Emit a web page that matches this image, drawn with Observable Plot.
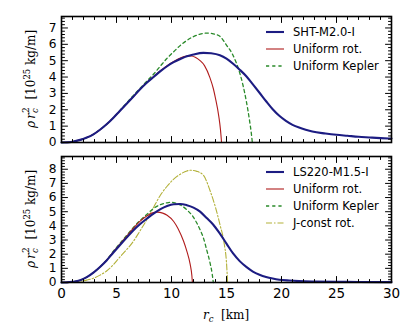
<!DOCTYPE html>
<html>
<head>
<meta charset="utf-8">
<script src="https://cdn.jsdelivr.net/npm/d3@7"></script>
<script src="https://cdn.jsdelivr.net/npm/@observablehq/plot@0.6"></script>
<style>
  html, body { margin: 0; padding: 0; background: #fff; }
  #fig { position: relative; width: 411px; height: 329px; font-family: "DejaVu Sans", sans-serif; }
</style>
</head>
<body>
<div id="fig"></div>
<script>
// ---------- Data ----------
// Top panel: SHT-M2.0-I
const topBlueR = [0, 0.5, 1, 1.7, 2.3, 2.9, 3.5, 4.1, 4.7, 5.3, 5.9, 6.5, 7.1, 7.75, 8.4, 9.0, 9.6, 10.2, 10.8, 11.4, 12.0, 12.9, 13.6, 14.4, 15.0, 15.6, 16.2, 16.8, 17.4, 18.0, 18.6, 19.2, 19.8, 20.4, 21.0, 21.6, 22.2, 22.8, 24, 25, 26, 27, 28, 29, 30];
const topBlueV = [0, 0.01, 0.05, 0.16, 0.3, 0.5, 0.78, 1.11, 1.5, 1.93, 2.35, 2.78, 3.22, 3.65, 4.02, 4.36, 4.66, 4.91, 5.1, 5.27, 5.38, 5.48, 5.45, 5.33, 5.12, 4.81, 4.45, 4.05, 3.55, 3.04, 2.52, 2.03, 1.63, 1.32, 1.08, 0.91, 0.78, 0.67, 0.55, 0.47, 0.41, 0.35, 0.31, 0.27, 0.24];
const topRedR = [0, 0.5, 1, 1.7, 2.3, 2.9, 3.5, 4.1, 4.7, 5.3, 5.9, 6.5, 7.1, 7.75, 8.4, 9.0, 9.6, 10.2, 10.8, 11.4, 11.8, 12.2, 12.6, 13.0, 13.5, 13.8, 14.0, 14.3, 14.45, 14.55];
const topRedV = [0, 0.01, 0.05, 0.16, 0.3, 0.5, 0.78, 1.11, 1.5, 1.93, 2.35, 2.78, 3.22, 3.66, 4.04, 4.39, 4.7, 4.95, 5.17, 5.28, 5.29, 5.2, 5.0, 4.7, 3.95, 3.3, 2.7, 1.6, 0.8, 0];
const topGreenR = [0, 0.5, 1, 1.7, 2.3, 2.9, 3.5, 4.1, 4.7, 5.3, 5.9, 6.5, 7.1, 7.75, 8.4, 9.0, 9.6, 10.2, 10.8, 11.4, 12.0, 12.6, 13.2, 13.8, 14.4, 15.0, 15.5, 16.2, 16.5, 16.8, 17.1, 17.25, 17.35];
const topGreenV = [0, 0.01, 0.05, 0.16, 0.3, 0.5, 0.78, 1.11, 1.5, 1.95, 2.4, 2.85, 3.28, 3.75, 4.2, 4.68, 5.15, 5.55, 5.93, 6.24, 6.47, 6.62, 6.69, 6.64, 6.49, 5.95, 5.45, 4.26, 3.5, 2.53, 1.32, 0.6, 0];

// Bottom panel: LS220-M1.5-I
const botBlueR = [0, 0.5, 1, 1.7, 2.3, 2.9, 3.5, 4.1, 4.7, 5.3, 5.9, 6.5, 7.1, 7.75, 8.4, 9.0, 9.6, 10.2, 10.8, 11.4, 12.0, 12.6, 13.2, 13.8, 14.4, 15.0, 15.6, 16.2, 16.8, 17.4, 18.0, 18.6, 19.2, 19.8, 20.7, 21.6, 23, 25, 27, 30];
const botBlueV = [0, 0.01, 0.05, 0.16, 0.38, 0.7, 1.1, 1.56, 2.1, 2.63, 3.15, 3.66, 4.1, 4.5, 4.88, 5.18, 5.4, 5.53, 5.55, 5.46, 5.29, 5.01, 4.55, 4.08, 3.45, 2.75, 2.05, 1.51, 1.1, 0.77, 0.55, 0.39, 0.28, 0.2, 0.14, 0.1, 0.07, 0.05, 0.04, 0.03];
const botRedR = [0, 0.5, 1, 1.7, 2.3, 2.9, 3.5, 4.1, 4.7, 5.3, 5.9, 6.5, 7.1, 7.75, 8.2, 8.7, 9.2, 9.6, 10.2, 10.6, 11.1, 11.4, 11.7, 11.85, 11.9];
const botRedV = [0, 0.01, 0.05, 0.16, 0.38, 0.7, 1.1, 1.58, 2.15, 2.7, 3.25, 3.8, 4.3, 4.7, 4.9, 4.97, 4.9, 4.75, 4.31, 3.8, 2.91, 2.2, 1.28, 0.5, 0];
const botGreenR = [0, 0.5, 1, 1.7, 2.3, 2.9, 3.5, 4.1, 4.7, 5.3, 5.9, 6.5, 7.1, 7.75, 8.4, 9.0, 9.6, 10.0, 10.4, 10.8, 11.4, 12.0, 12.3, 12.6, 12.9, 13.2, 13.5, 13.7, 13.8];
const botGreenV = [0, 0.01, 0.05, 0.16, 0.38, 0.7, 1.1, 1.58, 2.2, 2.75, 3.3, 3.85, 4.35, 4.8, 5.25, 5.5, 5.63, 5.66, 5.6, 5.48, 5.13, 4.6, 4.2, 3.73, 3.15, 2.3, 1.4, 0.6, 0];
const botOliveR = [0, 1, 1.7, 2.3, 2.9, 3.5, 4.1, 4.7, 5.3, 5.9, 6.5, 7.1, 7.75, 8.4, 9.0, 9.6, 10.2, 10.8, 11.4, 11.7, 12.3, 12.9, 13.5, 14.0, 14.4, 14.8, 15.0, 15.1];
const botOliveV = [0, 0.02, 0.08, 0.17, 0.3, 0.52, 0.81, 1.25, 1.79, 2.3, 2.87, 3.6, 4.43, 5.35, 6.18, 6.8, 7.3, 7.65, 7.88, 7.93, 7.85, 7.58, 6.5, 5.3, 4.1, 2.7, 1.4, 0];

const topNames = ["SHT-M2.0-I", "Uniform rot.", "Uniform Kepler"];
const botNames = ["LS220-M1.5-I", "Uniform rot.", "Uniform Kepler", "J-const rot."];
const xTicks = [0, 5, 10, 15, 20, 25, 30];
const topYTicks = [0, 1, 2, 3, 4, 5, 6, 7];
const botYTicks = [0, 1, 2, 3, 4, 5, 6, 7, 8];

// ---------- Styles ----------
const styles = [
  {stroke: "#1c1c82", strokeWidth: 2.1, dash: null},
  {stroke: "#b01c1c", strokeWidth: 1.1, dash: null},
  {stroke: "#2a8a2a", strokeWidth: 1.3, dash: "3.2,3"},
  {stroke: "#b3b13a", strokeWidth: 1.1, dash: "6,2,1.5,2"}
];

const zip = (r, v) => r.map((x, i) => ({r: x, v: v[i]}));
const topSeries = [zip(topBlueR, topBlueV), zip(topRedR, topRedV), zip(topGreenR, topGreenV)];
const botSeries = [zip(botBlueR, botBlueV), zip(botRedR, botRedV), zip(botGreenR, botGreenV), zip(botOliveR, botOliveV)];

const range = (a, b, s) => { const out = []; for (let t = a; t <= b + 1e-9; t += s) out.push(+t.toFixed(3)); return out; };
const xMinor = range(0, 30, 1).filter(d => d % 5 !== 0);

// a plain line-segment shape for inward tick marks
const tickShape = {draw(ctx, l) { ctx.moveTo(0, 0); ctx.lineTo(0, -l); }};
function ticks(vals, axis, anchor, len, yMax) {
  const base = {length: len, anchor: "start", shape: tickShape, stroke: "#000", strokeWidth: 1, fill: "none"};
  if (axis === "x") {
    return Plot.vector(vals, {...base, x: d => d, y: anchor === "bottom" ? 0 : yMax, rotate: anchor === "bottom" ? 0 : 180});
  }
  return Plot.vector(vals, {...base, y: d => d, x: anchor === "left" ? 0 : 30, rotate: anchor === "left" ? 90 : -90});
}

function panel(series, yMax, yTicks, opts) {
  const yMinor = range(0, yMax, 0.2).filter(d => Math.abs(d - Math.round(d)) > 1e-6);
  const lines = [];
  const order = series.map((s, i) => i).reverse();
  for (const i of order) {
    lines.push(Plot.line(series[i], {
      x: "r", y: "v", stroke: styles[i].stroke, strokeWidth: styles[i].strokeWidth,
      strokeDasharray: styles[i].dash, curve: "monotone-x"
    }));
  }
  const marks = [
    ...lines,
    ticks(xTicks, "x", "bottom", 6, yMax),
    ticks(xMinor, "x", "bottom", 3, yMax),
    ticks(xTicks, "x", "top", 6, yMax),
    ticks(xMinor, "x", "top", 3, yMax),
    ticks(yTicks, "y", "left", 6, yMax),
    ticks(yMinor, "y", "left", 3, yMax),
    ticks(yTicks, "y", "right", 6, yMax),
    ticks(yMinor, "y", "right", 3, yMax),
    Plot.axisY(yTicks, {anchor: "left", tickSize: 0, tickPadding: 5, fontSize: 12.2, tickFormat: d => String(d), label: null}),
    Plot.frame({stroke: "#000", strokeWidth: 1.6})
  ];
  if (opts.xLabels) {
    marks.push(Plot.axisX(xTicks, {anchor: "bottom", tickSize: 0, tickPadding: 6, fontSize: 13.5, tickFormat: d => String(d), label: null}));
  }
  return Plot.plot({
    width: 411, height: opts.height,
    marginLeft: 61, marginRight: 20, marginTop: opts.mt, marginBottom: opts.mb,
    style: {fontFamily: "DejaVu Sans, sans-serif", background: "transparent", color: "#000"},
    x: {domain: [0, 30], axis: opts.xLabels ? undefined : null},
    y: {domain: [0, yMax]},
    marks
  });
}

const fig = document.getElementById("fig");
const topPlot = panel(topSeries, 7.7, topYTicks, {height: 150, mt: 16, mb: 8, xLabels: false});
topPlot.style.position = "absolute"; topPlot.style.top = "0px"; topPlot.style.left = "0px";
fig.appendChild(topPlot);
const botPlot = panel(botSeries, 8.9, botYTicks, {height: 187, mt: 14, mb: 47, xLabels: true});
botPlot.style.position = "absolute"; botPlot.style.top = "142px"; botPlot.style.left = "0px";
fig.appendChild(botPlot);

// ---------- Overlay: legends and axis labels ----------
const ov = d3.select(fig).append("svg")
  .attr("width", 411).attr("height", 329)
  .style("position", "absolute").style("top", "0px").style("left", "0px")
  .style("pointer-events", "none");

function legend(names, y0) {
  const g = ov.append("g");
  names.forEach((name, i) => {
    const y = y0 + i * 17;
    g.append("line").attr("x1", 266).attr("x2", 284).attr("y1", y).attr("y2", y)
      .attr("stroke", styles[i].stroke).attr("stroke-width", styles[i].strokeWidth)
      .attr("stroke-dasharray", styles[i].dash);
    g.append("text").attr("x", 293).attr("y", y).attr("dy", "0.35em")
      .attr("font-family", "DejaVu Sans, sans-serif").attr("font-size", 11.5)
      .text(name);
  });
}
legend(topNames, 32);
legend(botNames, 172);

function yLabel(cy) {
  const t = ov.append("text")
    .attr("transform", `translate(35,${cy}) rotate(-90)`)
    .attr("text-anchor", "middle")
    .attr("font-family", "DejaVu Serif, serif").attr("font-size", 12);
  t.append("tspan").attr("font-style", "italic").text("ρ\u2009r");
  t.append("tspan").attr("font-style", "italic").attr("font-size", 8.5).attr("dy", 3).text("c");
  t.append("tspan").attr("font-size", 8.5).attr("dx", -4.5).attr("dy", -9).text("2");
  t.append("tspan").attr("dy", 6).text("\u00a0\u00a0[10");
  t.append("tspan").attr("font-size", 8.5).attr("dy", -5).text("25");
  t.append("tspan").attr("dy", 5).text("\u00a0kg/m]");
}
yLabel(79);
yLabel(219);

const xl = ov.append("text")
  .attr("x", 226).attr("y", 319)
  .attr("text-anchor", "middle")
  .attr("font-family", "DejaVu Serif, serif").attr("font-size", 12);
xl.append("tspan").attr("font-style", "italic").text("r");
xl.append("tspan").attr("font-style", "italic").attr("font-size", 8.5).attr("dy", 3).text("c");
xl.append("tspan").attr("dy", -3).text("\u00a0\u00a0[km]");
</script>
</body>
</html>
